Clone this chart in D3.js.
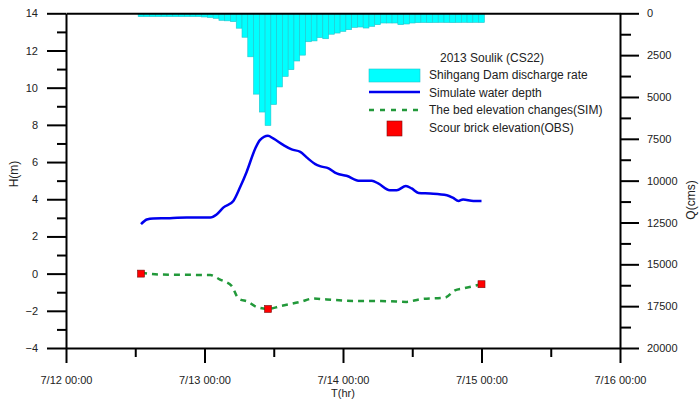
<!DOCTYPE html>
<html>
<head>
<meta charset="utf-8">
<script src="https://cdn.jsdelivr.net/npm/d3@7"></script>
<style>
body { margin: 0; background: #fff; }
text { font-family: Arial, "Liberation Sans", sans-serif; fill: #222; }
</style>
</head>
<body>
<svg id="chart" width="699" height="400"></svg>
<script>
// hours counted from 7/12 00:00
var flowHours = [13, 14, 15, 16, 17, 18, 19, 20, 21, 22, 23, 24, 25, 26, 27, 28, 29, 30, 31, 32,
                 33, 34, 35, 36, 37, 38, 39, 40, 41, 42, 43, 44, 45, 46, 47, 48, 49, 50, 51, 52,
                 53, 54, 55, 56, 57, 58, 59, 60, 61, 62, 63, 64, 65, 66, 67, 68, 69, 70, 71, 72];
var flowRate = [200, 200, 200, 200, 200, 200, 200, 200, 200, 200, 200, 220, 250, 300, 420, 450, 500, 890, 1430, 2600,
                4830, 5900, 6700, 5450, 4400, 3770, 3370, 2850, 2500, 1700, 1650, 1450, 1520, 1250, 1180, 1080, 980, 840, 820, 880,
                780, 680, 580, 580, 580, 680, 640, 580, 560, 550, 560, 550, 540, 550, 560, 550, 540, 550, 540, 550];

var depthHours = [13, 14, 15.1, 18, 20.9, 25, 26.1, 27.3, 29, 30.2, 31.3, 32.8, 33.6, 35, 35.9, 37.7, 39.1, 40.6, 41.7, 43.2,
                  44, 45.5, 46.9, 48.6, 50.9, 53, 54.1, 56.1, 57.3, 58.9, 59.9, 61.1, 63.1, 66, 67.1, 68, 68.8, 70.6, 72];
var depthH = [2.66, 2.91, 2.97, 2.98, 3.02, 3.02, 3.18, 3.56, 3.91, 4.67, 5.47, 6.73, 7.18, 7.41, 7.27, 6.91, 6.68, 6.55, 6.25, 5.89,
              5.78, 5.66, 5.39, 5.26, 4.99, 4.99, 4.85, 4.49, 4.49, 4.71, 4.58, 4.34, 4.31, 4.22, 4.07, 3.91, 3.99, 3.91, 3.91];

var bedHours = [13, 16.3, 25, 26.7, 28.7, 29.9, 31.6, 33, 35, 37.1, 40.6, 42.9, 45.2, 49.8, 55.6, 59, 61.3, 65.7, 67.4, 68.8, 72];
var bedH = [0.05, -0.05, -0.08, -0.32, -0.66, -1.34, -1.52, -1.79, -1.9, -1.75, -1.52, -1.34, -1.39, -1.47, -1.48, -1.52, -1.38, -1.29, -0.9, -0.8, -0.57];

var obsHours = [13, 35, 72];
var obsH = [0.0, -1.9, -0.57];

var xTicks = [0, 24, 48, 72, 96];
var xMinor = [12, 36, 60, 84];
var xTickLabels = ["7/12 00:00", "7/13 00:00", "7/14 00:00", "7/15 00:00", "7/16 00:00"];
var hTicks = [-4, -2, 0, 2, 4, 6, 8, 10, 12, 14];
var hMinor = [-3, -1, 1, 3, 5, 7, 9, 11, 13];
var qTicks = [0, 2500, 5000, 7500, 10000, 12500, 15000, 17500, 20000];
var qMinor = [1250, 3750, 6250, 8750, 11250, 13750, 16250, 18750];

var legendLabels = ["Shihgang Dam discharge rate", "Simulate water depth",
                    "The bed elevation changes(SIM)", "Scour brick elevation(OBS)"];

var svg = d3.select("#chart");

var x = d3.scaleLinear().domain([0, 96]).range([66, 620]);
var yH = d3.scaleLinear().domain([-4, 14]).range([348, 13.3]);
var yQ = d3.scaleLinear().domain([0, 20000]).range([13.3, 348]);

// discharge bars hanging from the top
svg.append("g")
    .selectAll("rect")
    .data(flowHours.map((h, i) => ({h: h, q: flowRate[i]})))
    .enter().append("rect")
    .attr("x", d => x(d.h - 0.5))
    .attr("y", yQ(0))
    .attr("width", d => x(d.h + 0.5) - x(d.h - 0.5))
    .attr("height", d => yQ(d.q) - yQ(0))
    .attr("fill", "#00ffff")
    .attr("stroke", "#22c4cc")
    .attr("stroke-width", 0.6);

// water depth
var depthLine = d3.line()
    .x((d, i) => x(depthHours[i]))
    .y(d => yH(d))
    .curve(d3.curveMonotoneX);
svg.append("path")
    .attr("d", depthLine(depthH))
    .attr("fill", "none")
    .attr("stroke", "#0000ee")
    .attr("stroke-width", 2.5);

// bed elevation
var bedLine = d3.line()
    .x((d, i) => x(bedHours[i]))
    .y(d => yH(d))
    .curve(d3.curveMonotoneX);
svg.append("path")
    .attr("d", bedLine(bedH))
    .attr("fill", "none")
    .attr("stroke", "#22993a")
    .attr("stroke-width", 2.5)
    .attr("stroke-dasharray", "6,5");

// observed bricks
svg.append("g")
    .selectAll("rect")
    .data(obsH)
    .enter().append("rect")
    .attr("x", (d, i) => x(obsHours[i]) - 3.5)
    .attr("y", d => yH(d) - 3.5)
    .attr("width", 7)
    .attr("height", 7)
    .attr("fill", "#ff0000")
    .attr("stroke", "#7a1010")
    .attr("stroke-width", 0.6);

// axes
function styleAxis(g) {
    g.selectAll("path, line").attr("stroke", "#000").attr("stroke-width", 2);
    g.selectAll("text").attr("font-size", 11).attr("fill", "#222");
}

svg.append("g")
    .attr("transform", "translate(66,0)")
    .call(d3.axisLeft(yH).tickValues(hTicks).tickSize(19).tickPadding(9).tickSizeOuter(0))
    .call(styleAxis);
svg.append("g")
    .attr("transform", "translate(66,0)")
    .call(d3.axisLeft(yH).tickValues(hMinor).tickSize(9).tickFormat(""))
    .call(g => g.select(".domain").remove())
    .call(styleAxis);

svg.append("g")
    .attr("transform", "translate(620,0)")
    .call(d3.axisRight(yQ).tickValues(qTicks).tickSize(19).tickPadding(8).tickSizeOuter(0)
        .tickFormat(d3.format("d")))
    .call(styleAxis);
svg.append("g")
    .attr("transform", "translate(620,0)")
    .call(d3.axisRight(yQ).tickValues(qMinor).tickSize(11).tickFormat(""))
    .call(g => g.select(".domain").remove())
    .call(styleAxis);

svg.append("g")
    .attr("transform", "translate(0,348)")
    .call(d3.axisBottom(x).tickValues(xTicks).tickSize(15).tickPadding(13).tickSizeOuter(0)
        .tickFormat((d, i) => xTickLabels[i]))
    .call(styleAxis);
svg.append("g")
    .attr("transform", "translate(0,348)")
    .call(d3.axisBottom(x).tickValues(xMinor).tickSize(9).tickFormat(""))
    .call(g => g.select(".domain").remove())
    .call(styleAxis);

svg.append("g")
    .attr("transform", "translate(0," + yH(14) + ")")
    .call(d3.axisTop(x).tickValues([]).tickSizeOuter(0))
    .call(styleAxis);

// axis titles
svg.append("text")
    .attr("transform", "translate(18,174) rotate(-90)")
    .attr("text-anchor", "middle")
    .attr("font-size", 12)
    .text("H(m)");
svg.append("text")
    .attr("transform", "translate(695,200) rotate(-90)")
    .attr("text-anchor", "middle")
    .attr("font-size", 12)
    .text("Q(cms)");
svg.append("text")
    .attr("x", 343)
    .attr("y", 397)
    .attr("text-anchor", "middle")
    .attr("font-size", 11)
    .text("T(hr)");

// legend
var legend = svg.append("g");
legend.append("text")
    .attr("x", 492)
    .attr("y", 62)
    .attr("text-anchor", "middle")
    .attr("font-size", 12)
    .text("2013 Soulik (CS22)");
legend.append("rect")
    .attr("x", 369).attr("y", 69).attr("width", 51).attr("height", 13)
    .attr("fill", "#00ffff").attr("stroke", "#22c4cc").attr("stroke-width", 0.6);
legend.append("line")
    .attr("x1", 369).attr("x2", 420).attr("y1", 92).attr("y2", 92)
    .attr("stroke", "#0000ee").attr("stroke-width", 2.5);
legend.append("line")
    .attr("x1", 369).attr("x2", 420).attr("y1", 110).attr("y2", 110)
    .attr("stroke", "#22993a").attr("stroke-width", 2.5).attr("stroke-dasharray", "5,6");
legend.append("rect")
    .attr("x", 387).attr("y", 121).attr("width", 15).attr("height", 15)
    .attr("fill", "#ff0000").attr("stroke", "#7a1010").attr("stroke-width", 0.6);
legend.selectAll("text.item")
    .data(legendLabels)
    .enter().append("text")
    .attr("class", "item")
    .attr("x", 429)
    .attr("y", (d, i) => 79 + i * 17.7)
    .attr("font-size", 12)
    .text(d => d);
</script>
</body>
</html>
